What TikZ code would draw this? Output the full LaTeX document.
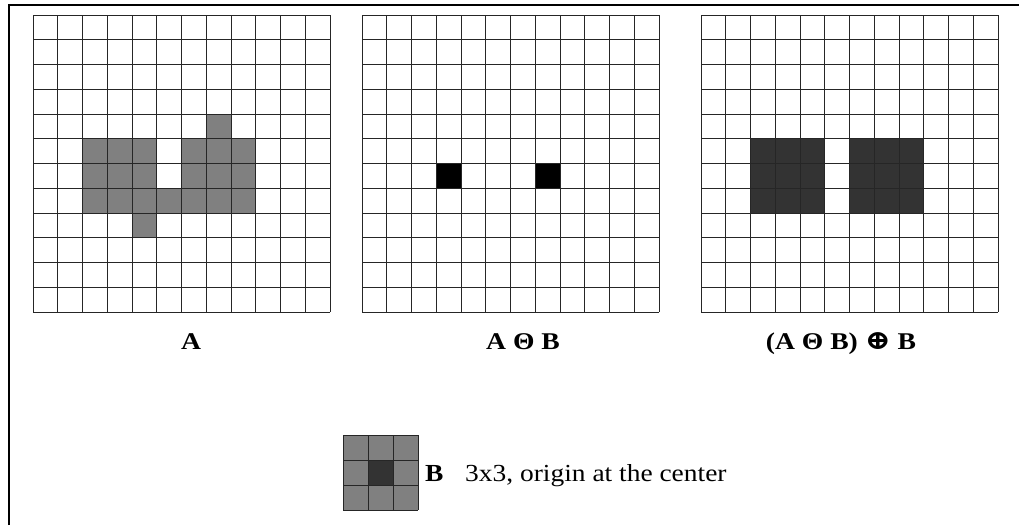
\documentclass[tikz,border=0pt]{standalone}
\usepackage{fontspec}
\setmainfont{Liberation Serif}
\newfontfamily\symfont{DejaVu Serif}
\begin{document}
\begin{tikzpicture}[x=1pt,y=-1pt,
  gridline/.style={draw=black!85,line width=1pt},
  grayc/.style={fill=black!50},
  darkc/.style={fill=black!80},
  blackc/.style={fill=black},
  lab/.style={font=\fontsize{24}{28}\selectfont\bfseries,inner sep=0pt,anchor=base},
  txt/.style={font=\fontsize{24.5}{28}\selectfont,inner sep=0pt,anchor=base west}]
\useasboundingbox (0,0) rectangle (1019,525);
\def\s{24.75}
\def\top{15}
% cells of A
\foreach \c/\r in {2/5,3/5,4/5,2/6,3/6,4/6,2/7,3/7,4/7,5/7,6/5,7/5,8/5,6/6,7/6,8/6,6/7,7/7,8/7,7/4,4/8}
  \fill[grayc] ({33+\c*\s},{\top+\r*\s}) rectangle ++(\s,\s);
% cells of A erosion B
\foreach \c/\r in {3/6,7/6}
  \fill[blackc] ({362+\c*\s},{\top+\r*\s}) rectangle ++(\s,\s);
% cells of opening
\foreach \c/\r in {2/5,3/5,4/5,2/6,3/6,4/6,2/7,3/7,4/7,6/5,7/5,8/5,6/6,7/6,8/6,6/7,7/7,8/7}
  \fill[darkc] ({701+\c*\s},{\top+\r*\s}) rectangle ++(\s,\s);
% grid lines
\foreach \ox in {33,362,701}{
  \foreach \i in {0,...,12}{
    \draw[gridline] ({\ox+\i*\s},\top) -- ({\ox+\i*\s},{\top+12*\s});
    \draw[gridline] (\ox,{\top+\i*\s}) -- ({\ox+12*\s},{\top+\i*\s});
  }
}
% labels
\node[lab] (la) at (191,349) {\scalebox{1.15}[1]{A}};
\node[lab] (lb) at (523,349) {\scalebox{1.15}[1]{A Θ B}};
\node[lab] (lc) at (841,349) {\scalebox{1.15}[1]{(A Θ B) {\symfont\bfseries\fontsize{27}{28}\selectfont ⊕} B}};
% structuring element
\foreach \c/\r in {0/0,1/0,2/0,0/1,2/1,0/2,1/2,2/2}
  \fill[grayc] ({343+\c*25},{435+\r*25}) rectangle ++(25,25);
\fill[darkc] (368,460) rectangle ++(25,25);
\foreach \i in {0,...,3}{
  \draw[gridline] ({343+\i*25},435) -- ({343+\i*25},510);
  \draw[gridline] (343,{435+\i*25}) -- (418,{435+\i*25});
}
\node[txt,font=\fontsize{24.5}{28}\selectfont\bfseries] (bl) at (425,481) {\scalebox{1.12}[1]{B}};
\node[txt] (bt) at (465,481) {\scalebox{1.12}[1]{3x3, origin at the center}};
% frame
\draw[line width=2pt] (9,525) -- (9,5) -- (1019,5);
\end{tikzpicture}
\end{document}
